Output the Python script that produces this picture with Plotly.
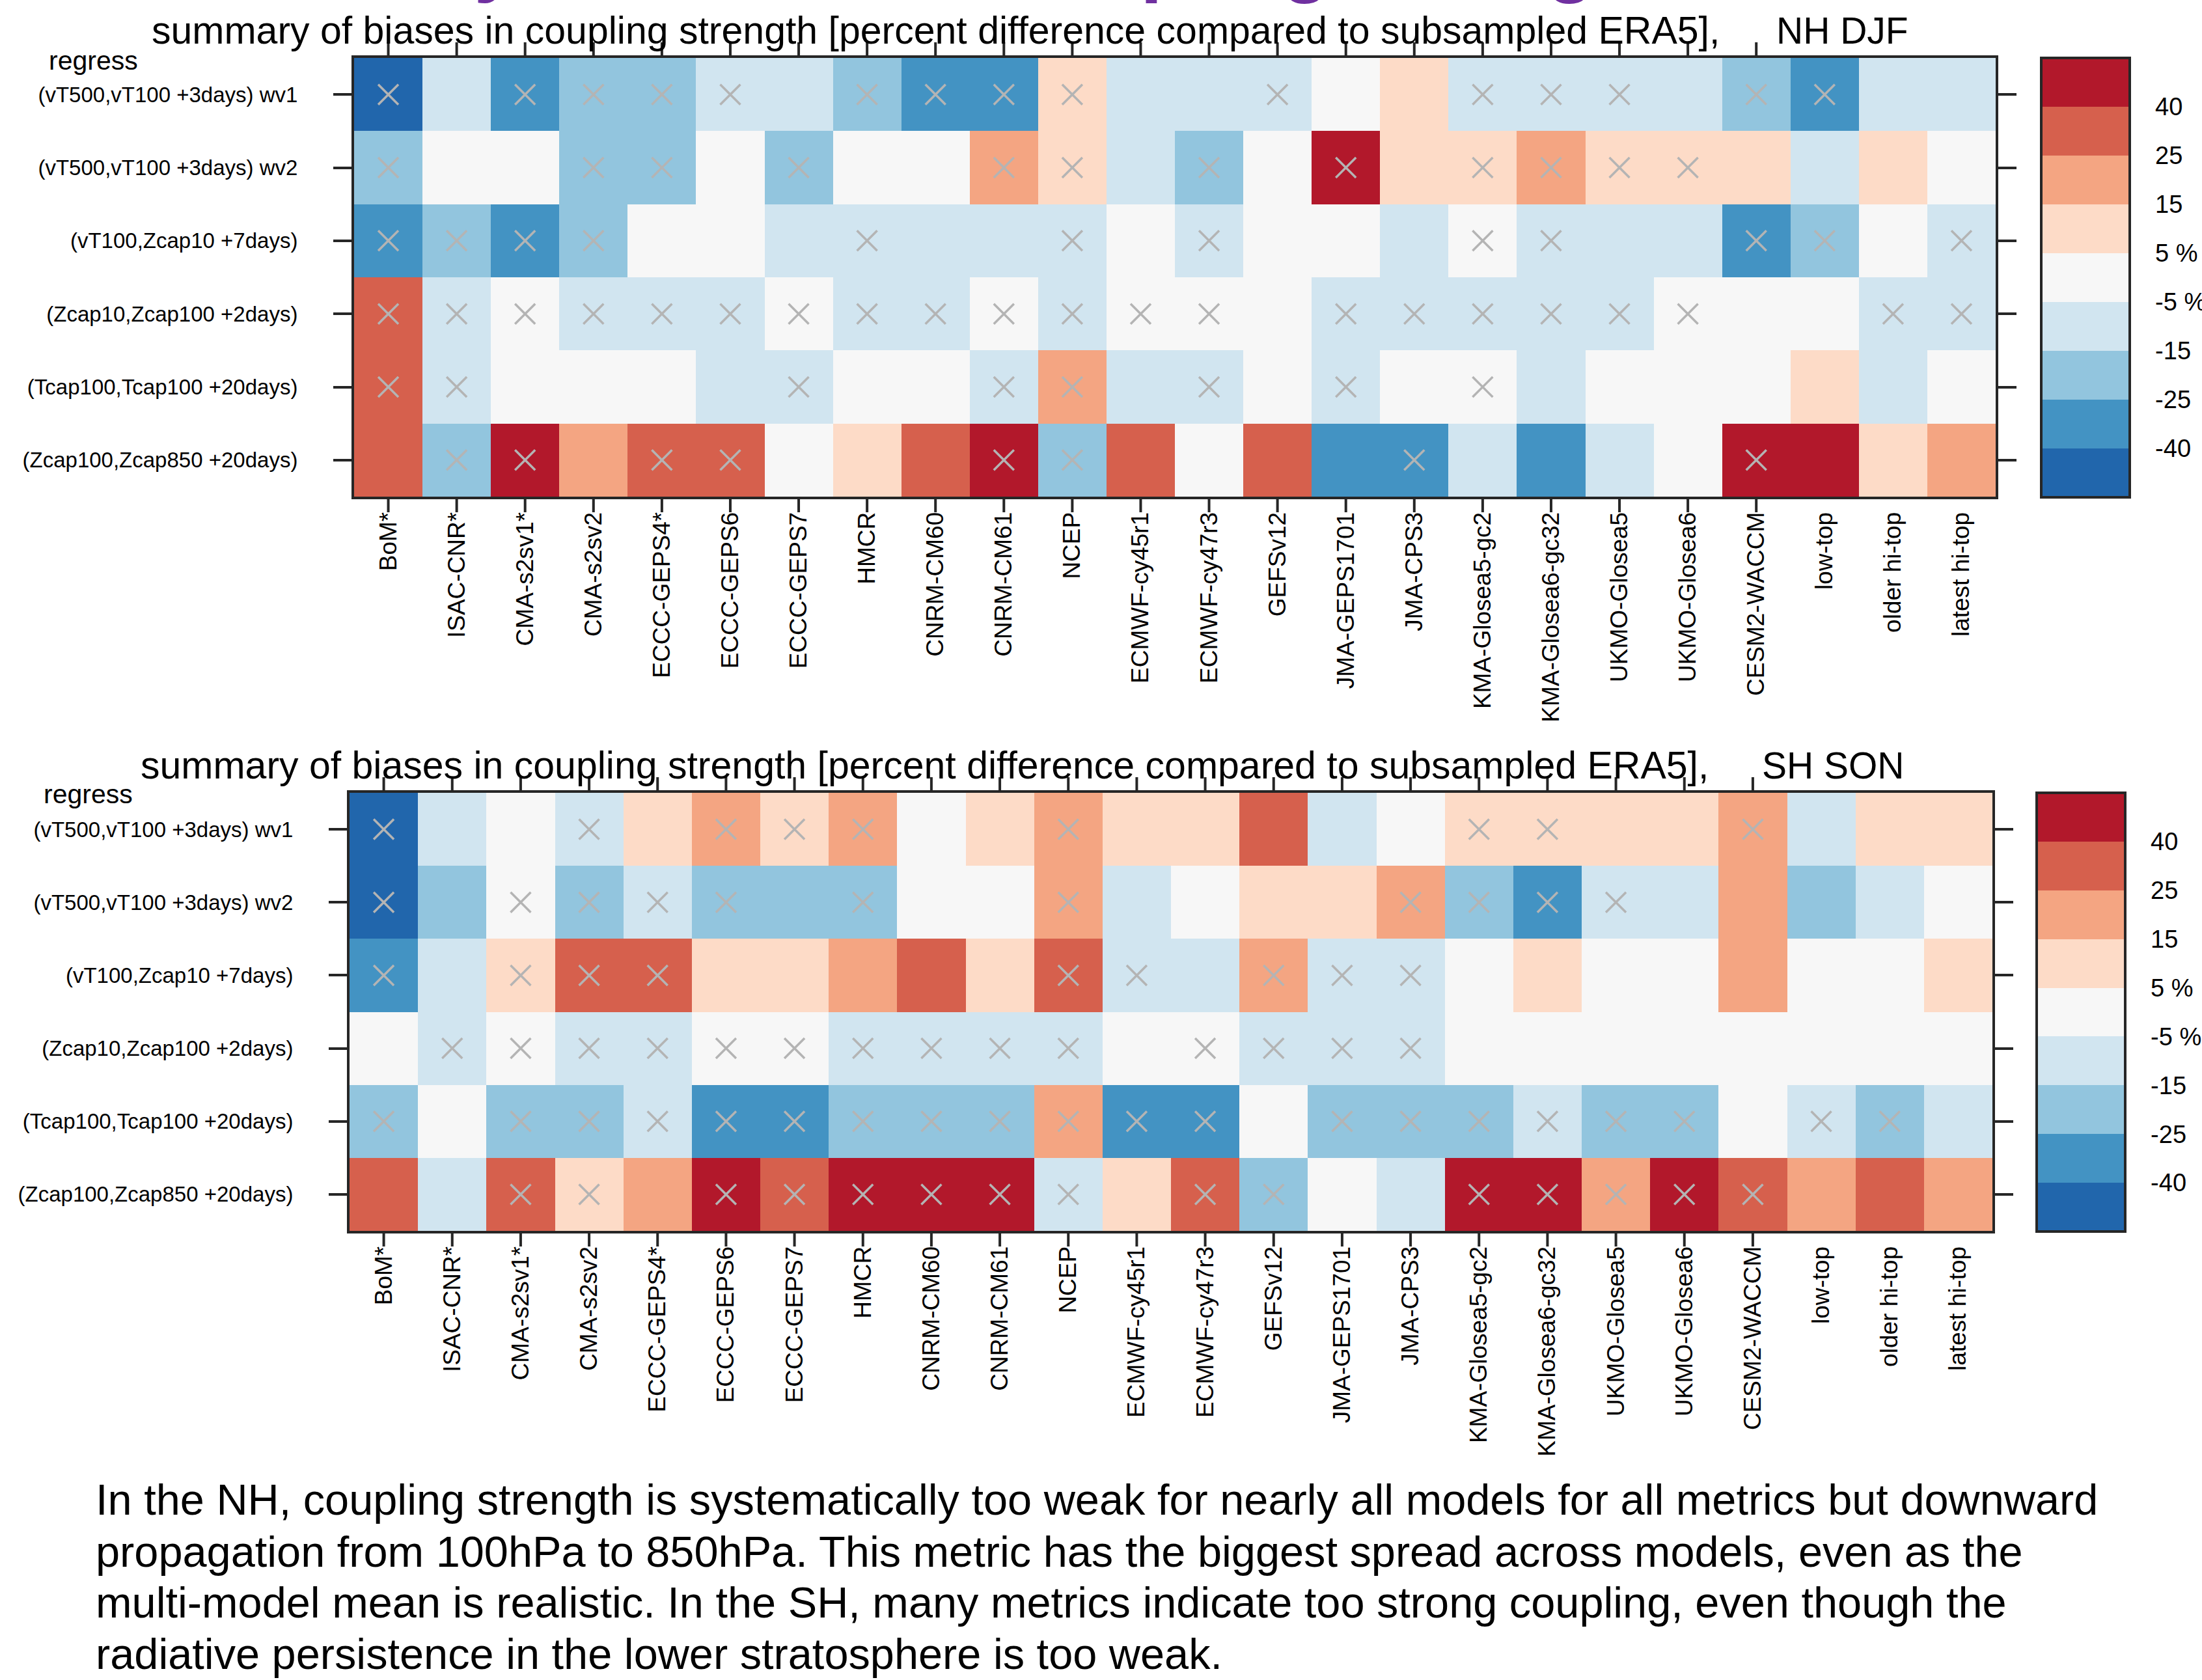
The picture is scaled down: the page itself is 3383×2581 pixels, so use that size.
import numpy as np
import plotly.graph_objects as go

W, H = 3383, 2581
FONT = "Liberation Sans, Arial, Helvetica, sans-serif"
FRAME = "#262626"

models = ["BoM*", "ISAC-CNR*", "CMA-s2sv1*", "CMA-s2sv2", "ECCC-GEPS4*", "ECCC-GEPS6",
          "ECCC-GEPS7", "HMCR", "CNRM-CM60", "CNRM-CM61", "NCEP", "ECMWF-cy45r1",
          "ECMWF-cy47r3", "GEFSv12", "JMA-GEPS1701", "JMA-CPS3", "KMA-Glosea5-gc2",
          "KMA-Glosea6-gc32", "UKMO-Glosea5", "UKMO-Glosea6", "CESM2-WACCM",
          "low-top", "older hi-top", "latest hi-top"]
# columns that carry a tick mark (the three group means do not)
ticked_models = models[:21]

metrics = ["(vT500,vT100 +3days) wv1", "(vT500,vT100 +3days) wv2",
           "(vT100,Zcap10 +7days)", "(Zcap10,Zcap100 +2days)",
           "(Tcap100,Tcap100 +20days)", "(Zcap100,Zcap850 +20days)"]

# bias in coupling strength, percent difference vs subsampled ERA5 (rows = metrics)
nh_djf_bias = [
    [-46, -9, -31, -19, -18, -12, -8, -21, -29, -33, 8, -11, -7, -13, 2, 9, -10, -12, -9, -7, -22, -34, -8, -9],
    [-17, 1, -2, -20, -19, 3, -16, 0, -3, 22, 11, -8, -18, -1, 48, 7, 12, 19, 9, 6, 8, -6, 10, -2],
    [-28, -19, -35, -16, 4, -1, -7, -13, -9, -11, -14, 2, -8, 3, -4, -6, 1, -12, -10, -8, -31, -17, 0, -9],
    [33, -11, -3, -9, -12, -8, 2, -10, -13, -4, -7, 1, -2, 4, -14, -11, -9, -12, -6, -3, 0, 3, -10, -8],
    [29, -12, 1, -2, 3, -9, -11, 0, -1, -8, 18, -13, -10, 2, -6, 4, -3, -7, 1, -4, 2, 8, -9, 0],
    [36, -22, 52, 17, 30, 28, -2, 7, 34, 44, -20, 31, 1, 27, -30, -27, -9, -33, -11, 3, 47, 43, 12, 21],
]
# 1 = crossed cell
nh_djf_sig = [
    [1, 0, 1, 1, 1, 1, 0, 1, 1, 1, 1, 0, 0, 1, 0, 0, 1, 1, 1, 0, 1, 1, 0, 0],
    [1, 0, 0, 1, 1, 0, 1, 0, 0, 1, 1, 0, 1, 0, 1, 0, 1, 1, 1, 1, 0, 0, 0, 0],
    [1, 1, 1, 1, 0, 0, 0, 1, 0, 0, 1, 0, 1, 0, 0, 0, 1, 1, 0, 0, 1, 1, 0, 1],
    [1, 1, 1, 1, 1, 1, 1, 1, 1, 1, 1, 1, 1, 0, 1, 1, 1, 1, 1, 1, 0, 0, 1, 1],
    [1, 1, 0, 0, 0, 0, 1, 0, 0, 1, 1, 0, 1, 0, 1, 0, 1, 0, 0, 0, 0, 0, 0, 0],
    [0, 1, 1, 0, 1, 1, 0, 0, 0, 1, 1, 0, 0, 0, 0, 1, 0, 0, 0, 0, 1, 0, 0, 0],
]

sh_son_bias = [
    [-48, -8, 2, -11, 9, 21, 7, 18, -1, 11, 23, 8, 13, 35, -9, 0, 6, 12, 10, 7, 19, -12, 9, 11],
    [-44, -18, -3, -21, -13, -17, -22, -19, 1, 4, 20, -7, 2, 8, 12, 16, -23, -36, -10, -12, 22, -20, -9, -1],
    [-27, -9, 13, 30, 37, 9, 11, 24, 26, 8, 33, -11, -8, 17, -14, -6, 3, 7, -2, 0, 21, 1, -3, 12],
    [2, -10, -1, -8, -13, 3, -4, -9, -11, -7, -12, 0, 4, -6, -10, -14, 1, -3, 2, 0, -2, 3, -1, 4],
    [-18, 1, -21, -16, -11, -29, -26, -22, -17, -19, 16, -32, -28, -4, -20, -23, -18, -13, -21, -16, 3, -8, -24, -10],
    [31, -7, 28, 9, 18, 46, 33, 51, 42, 49, -12, 6, 29, -19, -2, -9, 45, 55, 22, 41, 36, 19, 30, 23],
]
sh_son_sig = [
    [1, 0, 0, 1, 0, 1, 1, 1, 0, 0, 1, 0, 0, 0, 0, 0, 1, 1, 0, 0, 1, 0, 0, 0],
    [1, 0, 1, 1, 1, 1, 0, 1, 0, 0, 1, 0, 0, 0, 0, 1, 1, 1, 1, 0, 0, 0, 0, 0],
    [1, 0, 1, 1, 1, 0, 0, 0, 0, 0, 1, 1, 0, 1, 1, 1, 0, 0, 0, 0, 0, 0, 0, 0],
    [0, 1, 1, 1, 1, 1, 1, 1, 1, 1, 1, 0, 1, 1, 1, 1, 0, 0, 0, 0, 0, 0, 0, 0],
    [1, 0, 1, 1, 1, 1, 1, 1, 1, 1, 1, 1, 1, 0, 1, 1, 1, 1, 1, 1, 0, 1, 1, 0],
    [0, 0, 1, 1, 0, 1, 1, 1, 1, 1, 1, 0, 1, 1, 0, 0, 1, 1, 1, 1, 1, 0, 0, 0],
]

# colour classes
class_bounds = [-40, -25, -15, -5, 5, 15, 25, 40]
class_colors = ["#2166ac", "#4393c3", "#92c5de", "#d1e5f0", "#f7f7f7",
                "#fddbc7", "#f4a582", "#d6604d", "#b2182b"]
class_labels = ["-40", "-25", "-15", "-5 %", "5 %", "15", "25", "40"]

slide_heading = "Summary of biases in coupling strength"
title_text = "summary of biases in coupling strength [percent difference compared to subsampled ERA5],"
summary_lines = [
    "In the NH, coupling strength is systematically too weak for nearly all models for all metrics but downward",
    "propagation from 100hPa to 850hPa. This metric has the biggest spread across models, even as the",
    "multi-model mean is realistic. In the SH, many metrics indicate too strong coupling, even though the",
    "radiative persistence in the lower stratosphere is too weak.",
]

n_cls = len(class_colors)
colorscale = []
for i, c in enumerate(class_colors):
    colorscale.append([i / n_cls, c])
    colorscale.append([(i + 1) / n_cls, c])

# panel geometry in page pixels: plot box (left, right, top, bottom), colourbar left
panels = [
    dict(name="NH DJF", bias=nh_djf_bias, sig=nh_djf_sig,
         box=(544, 3066, 89, 763), cb_left=3136,
         title_x=231, title_y=47, tag_x=2727, reg_x=73, reg_y=93),
    dict(name="SH SON", bias=sh_son_bias, sig=sh_son_sig,
         box=(537, 3061, 1218, 1891), cb_left=3129,
         title_x=214, title_y=1176, tag_x=2705, reg_x=65, reg_y=1220),
]

def fx(px):
    return px / W

def fy(py):
    return 1 - py / H

fig = go.Figure()
annotations = []
shapes = []
ncol, nrow = len(models), len(metrics)
col_idx = np.arange(ncol)
row_idx = np.arange(nrow)
TICK_LEN = 24

for k, p in enumerate(panels):
    sfx = "" if k == 0 else str(k + 1)
    xa, ya = "x" + sfx, "y" + sfx
    left, right, top, bottom = p["box"]
    vals = np.array(p["bias"], dtype=float)
    cls = np.digitize(vals, class_bounds)

    fig.add_trace(go.Heatmap(
        z=cls, x=col_idx, y=row_idx, xaxis=xa, yaxis=ya,
        zmin=-0.5, zmax=n_cls - 0.5, colorscale=colorscale,
        customdata=vals, hovertemplate="%{customdata}%<extra></extra>",
        colorbar=dict(
            thicknessmode="pixels", thickness=136,
            lenmode="pixels", len=bottom - top + 1,
            x=fx(p["cb_left"]), xanchor="left", xpad=0,
            y=fy(top), yanchor="top", ypad=0,
            outlinewidth=4, outlinecolor=FRAME,
            tickmode="array", tickvals=[i + 0.5 for i in range(n_cls - 1)],
            ticktext=class_labels, ticks="outside", ticklen=30,
            tickcolor="rgba(0,0,0,0)",
            tickfont=dict(family=FONT, size=38, color="black"),
        ),
    ))

    sig = np.array(p["sig"])
    rr, cc = np.nonzero(sig)
    fig.add_trace(go.Scatter(
        x=cc, y=rr, xaxis=xa, yaxis=ya, mode="markers",
        marker=dict(symbol="x-thin-open", size=31, color="#b4b4b4",
                    line=dict(width=3.5, color="#b4b4b4")),
        hoverinfo="skip", showlegend=False,
    ))

    # tick marks above and below the ticked model columns
    for m in ticked_models:
        c = models.index(m)
        for y0, y1 in ((top, top - TICK_LEN), (bottom, bottom + TICK_LEN)):
            shapes.append(dict(type="line", xref=xa, yref="paper",
                               x0=c, x1=c, y0=fy(y0), y1=fy(y1),
                               line=dict(color=FRAME, width=4)))

    fig.update_layout({
        "xaxis" + sfx: dict(
            domain=[fx(left), fx(right)], anchor=ya, range=[-0.5, ncol - 0.5],
            tickmode="array", tickvals=list(col_idx), ticktext=models,
            ticks="", tickangle=-90, ticklabelstandoff=5,
            tickfont=dict(family=FONT, size=37, color="black"),
            showline=True, linewidth=4, linecolor=FRAME, mirror=True,
            showgrid=False, zeroline=False, automargin=False, fixedrange=True,
        ),
        "yaxis" + sfx: dict(
            domain=[fy(bottom), fy(top)], anchor=xa, range=[nrow - 0.5, -0.5],
            tickmode="array", tickvals=list(row_idx), ticktext=metrics,
            ticks="outside", ticklen=28, tickwidth=4, tickcolor=FRAME,
            ticklabelstandoff=48,
            tickfont=dict(family=FONT, size=33, color="black"),
            showline=True, linewidth=4, linecolor=FRAME, mirror="ticks",
            showgrid=False, zeroline=False, automargin=False, fixedrange=True,
        ),
    })

    annotations += [
        dict(text=title_text, x=fx(p["title_x"]), y=fy(p["title_y"]),
             xanchor="left", yanchor="middle", font=dict(size=59)),
        dict(text=p["name"], x=fx(p["tag_x"]), y=fy(p["title_y"]),
             xanchor="left", yanchor="middle", font=dict(size=57)),
        dict(text="regress", x=fx(p["reg_x"]), y=fy(p["reg_y"]),
             xanchor="left", yanchor="middle", font=dict(size=41)),
    ]

# slide heading sits above the page edge; only its descenders reach into view
annotations.append(dict(text="<b>" + slide_heading + "</b>", x=fx(238), y=fy(8),
                        xanchor="left", yanchor="bottom",
                        font=dict(size=122, color="#7030a0")))

line_y = [2304, 2384, 2462, 2541]
for txt, py in zip(summary_lines, line_y):
    annotations.append(dict(text=txt, x=fx(145), y=fy(py), xanchor="left",
                            yanchor="middle", font=dict(size=66.7)))

for a in annotations:
    a.update(xref="paper", yref="paper", showarrow=False)
    a["font"] = dict(family=FONT, **{"color": "black", **a["font"]})

fig.update_layout(
    width=W, height=H, autosize=False,
    margin=dict(l=0, r=0, t=0, b=0, pad=0, autoexpand=False),
    paper_bgcolor="white", plot_bgcolor="white",
    showlegend=False, annotations=annotations, shapes=shapes,
    font=dict(family=FONT, color="black"),
)

fig.write_html("out.html", include_plotlyjs=True, config={"displayModeBar": False})
